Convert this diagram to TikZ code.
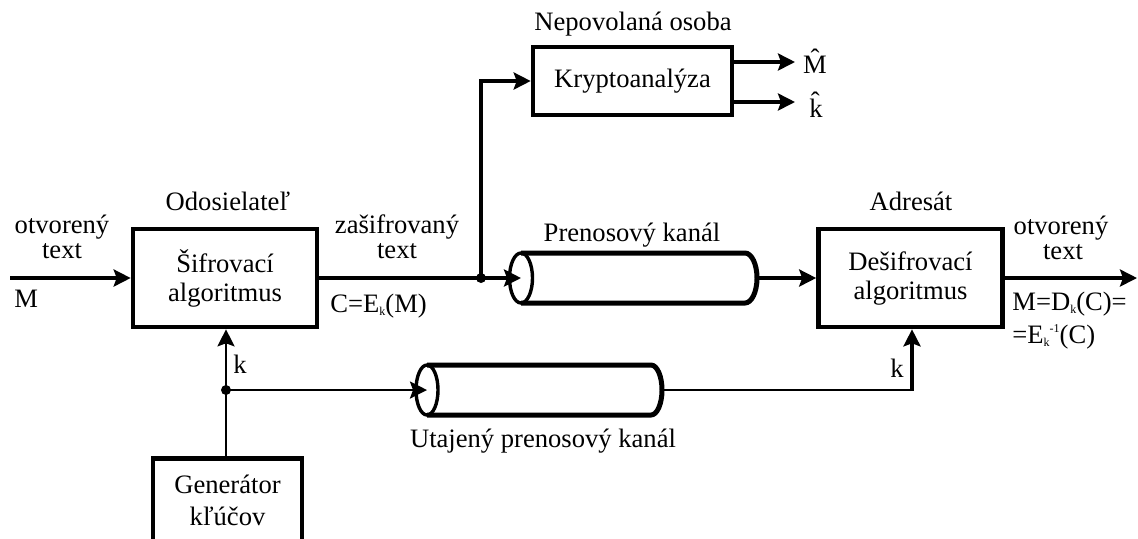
\documentclass[tikz,border=0pt]{standalone}
\usepackage{fontspec}
\setmainfont{Liberation Serif}
\usetikzlibrary{arrows.meta}
\newcommand{\lsub}[1]{\raisebox{-0.25ex}{\fontsize{6}{7}\selectfont #1}}
\newcommand{\lsup}[1]{\raisebox{0.9ex}{\fontsize{6}{7}\selectfont #1}}
\begin{document}
\begin{tikzpicture}[x=0.5pt,y=-0.5pt,
  txt/.style={font=\fontsize{13.3}{14.5}\selectfont},
  box/.style={txt,draw,line width=2.3pt,inner sep=0pt,align=center},
  lbl/.style={txt,inner sep=0pt,anchor=base},
  lbll/.style={txt,inner sep=0pt,anchor=base west},
  tip/.style={-{Stealth[length=8.5pt,width=8.5pt,inset=1.5pt]}},
  main/.style={line width=1.8pt},
  thin/.style={line width=1.3pt},
  thinner/.style={line width=1pt},
  cyl/.style={line width=2.5pt},
  cylend/.style={line width=1.7pt},
  dot/.style={fill,circle,inner sep=0pt,minimum size=5pt}
]
\useasboundingbox (0,0) rectangle (1138,538);

% boxes
\node[box,minimum width=92pt,minimum height=49pt] (sif) at (225,278) {Šifrovací\\algoritmus};
\node[box,minimum width=92pt,minimum height=49pt] (des) at (910.5,278) {Dešifrovací\\algoritmus};
\node[box,minimum width=99.5pt,minimum height=34pt] (kry) at (632.5,81) {Kryptoanalýza};
\node[box,minimum width=74.5pt,minimum height=41.5pt,font=\fontsize{13.3}{16}\selectfont] (gen) at (227.5,500) {Generátor\\kľúčov};

% cylinders
\draw[cyl] (521,253) -- (745,253) arc[start angle=90,end angle=-90,x radius=6pt,y radius=12.5pt] -- (521,303);
\draw[cylend] (521,278) ellipse[x radius=5.75pt,y radius=12.5pt];
\coordinate (c1l) at (521,278);
\coordinate (c1r) at (757,278);
\draw[cyl] (427,365) -- (651,365) arc[start angle=90,end angle=-90,x radius=5.5pt,y radius=12.5pt] -- (427,415);
\draw[cylend] (427,390) ellipse[x radius=5.5pt,y radius=12.5pt];
\coordinate (c2l) at (427,390);
\coordinate (c2r) at (662,390);

% junctions
\node[dot] (j1) at (481,278) {};
\node[dot] (j2) at (226,390) {};
\coordinate (in) at (10,278);
\coordinate (out) at (1137,278);
\coordinate (mh) at (795,62);
\coordinate (kh) at (795,102);
\coordinate (kc) at (912,390);

% connectors
\draw[main,tip] (in) -- (sif.west);
\draw[main] (sif.east) -- (j1.center);
\draw[main,tip] (j1.center) -- (c1l);
\draw[main,tip] (j1.center) |- (kry.west);
\draw[main,tip] (kry.east |- mh) -- (mh);
\draw[main,tip] (kry.east |- kh) -- (kh);
\draw[main,tip] (c1r) -- (des.west);
\draw[main,tip] (des.east) -- (out);
\draw[thin] (gen.north -| j2) -- (j2.center);
\draw[thin,tip] (j2.center) -- (sif.south -| j2);
\draw[thin,tip] (j2.center) -- (c2l);
\draw[thinner] (c2r) -- (kc);
\draw[main,tip] ([yshift=-0.5pt]kc) -- (des.south -| kc);

% labels
\node[lbl] (nep) at (633,30) {Nepovolaná osoba};
\node[lbl] (mhat) at (815,73) {\^{M}};
\node[lbl] (khat) at (816,117) {\^{k}};
\node[lbl] (ods) at (228,210) {Odosielateľ};
\node[lbl] (ot1) at (62,233) {otvorený};
\node[lbl] (tx1) at (62,258) {text};
\node[lbll] (m1) at (14,307) {M};
\node[lbl] (zas) at (397,233) {zašifrovaný};
\node[lbl] (tx2) at (397,258) {text};
\node[lbll] (cek) at (330,312) {C=E\lsub{k}(M)};
\node[lbl] (pre) at (632,241) {Prenosový kanál};
\node[lbl] (adr) at (911,210) {Adresát};
\node[lbl] (ot2) at (1061,234) {otvorený};
\node[lbl] (tx3) at (1063,259) {text};
\node[lbll] (mdk) at (1012,310) {M=D\lsub{k}(C)=};
\node[lbll] (eki) at (1012,343) {=E\lsub{k}\lsup{-1}(C)};
\node[lbl] (k2) at (897,377) {k};
\node[lbl] (k1) at (240,373) {k};
\node[lbl] (uta) at (543,447) {Utajený prenosový kanál};
\end{tikzpicture}
\end{document}
